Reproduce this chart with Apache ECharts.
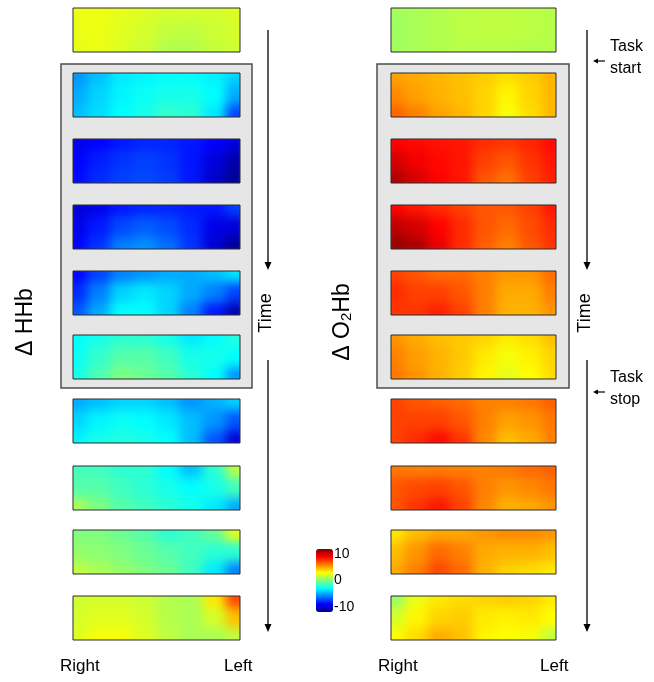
<!DOCTYPE html>
<html>
<head>
<meta charset="utf-8">
<script src="https://cdn.jsdelivr.net/npm/echarts@6/dist/echarts.min.js"></script>
<style>
  html, body { margin: 0; padding: 0; background: #fff; }
  #wrap { position: relative; width: 654px; height: 682px; overflow: hidden; background: #fff; }
  #maps, #frame { position: absolute; left: 0; top: 0; width: 654px; height: 682px; }
  /* topographic maps are drawn from the channel grid and softened */
  #maps { filter: blur(5.5px); }
</style>
</head>
<body>
<div id="wrap"><div id="maps"></div><div id="frame"></div></div>
<script>
// Channel grid: columns run from the right hemisphere (drawn left) to the left hemisphere
const channelCols = ['1', '2', '3', '4', '5', '6', '7', '8'];
const channelRows = ['upper', 'middle', 'lower'];

// ΔHHb maps, one per time step (rows: upper, middle, lower)
const hhb01 = [[2.6, 2.6, 2.4, 2.2, 2.0, 2.0, 2.0, 2.2], [2.5, 2.6, 2.3, 2.0, 1.6, 1.5, 1.8, 2.0], [2.4, 2.5, 2.2, 1.8, 1.2, 1.2, 1.6, 1.9]];
const hhb02 = [[-5.5, -4.5, -3.5, -3.2, -3.0, -3.0, -3.3, -4.0], [-5.0, -4.0, -3.2, -2.8, -2.5, -2.5, -3.0, -5.0], [-4.5, -3.8, -3.0, -2.5, -1.8, -2.0, -3.5, -7.5]];
const hhb03 = [[-9.5, -9, -8.5, -8.2, -8.2, -8.5, -9, -9.8], [-9, -8.3, -7.8, -7.5, -7.8, -8.5, -9.8, -11], [-8.8, -8, -7.5, -7.3, -7.6, -8.5, -10.3, -11.5]];
const hhb04 = [[-10, -9.5, -8.5, -8.2, -8.2, -8.4, -8.5, -7.5], [-9.5, -8.4, -7.3, -6.8, -7.2, -8, -9.5, -10], [-9, -7.8, -6, -5.6, -6.4, -7.8, -10, -11.5]];
const hhb05 = [[-9, -7.5, -6, -5.5, -5, -5, -4.5, -3.5], [-8, -6, -4, -3.5, -4, -5, -6, -7.5], [-7, -5, -3, -3, -4, -6, -8.5, -11]];
const hhb06 = [[-3, -2.5, -2, -2, -2.5, -3.5, -3, -2.2], [-2.8, -1.8, -1, -1, -1.5, -2.5, -2.5, -3], [-2.5, -1.2, 0, -0.5, -1, -2, -3, -5.5]];
const hhb07 = [[-5, -4.5, -4, -4, -4.5, -5.5, -4.8, -4], [-4, -3.2, -2.8, -3, -3.5, -4.5, -5.5, -7], [-3.2, -2.5, -2.3, -2.5, -3, -4.5, -7, -10]];
const hhb08 = [[-1.5, -1.5, -2, -2, -3, -4.5, -2, 1.5], [-1, -1, -1.5, -2, -2.5, -3, -2.5, -1.5], [1, 0, -1, -1.5, -2, -2.5, -3.5, -5]];
const hhb09 = [[0, 0, -0.5, -1, -2, -1.5, -0.5, 2.5], [0.5, 0.3, 0, -0.5, -1, -1.5, -2, -2], [1.5, 1, 0.5, 0, -0.5, -1.5, -3.5, -6]];
const hhb10 = [[1.8, 2, 2, 1.8, 1.2, 1.0, 3.5, 7.5], [2, 2.3, 2.3, 2, 1.3, 1.0, 2.0, 4.5], [2.3, 2.8, 2.8, 2.2, 1.5, 1.0, 1.0, 1.5]];

// ΔO2Hb maps, one per time step
const o2hb01 = [[0.8, 1.0, 1.2, 1.4, 1.5, 1.5, 1.4, 1.3], [0.7, 1.0, 1.2, 1.4, 1.5, 1.5, 1.4, 1.3], [0.8, 1.0, 1.2, 1.3, 1.3, 1.3, 1.2, 1.2]];
const o2hb02 = [[5.2, 5, 4.7, 4.5, 4.2, 3.8, 4.2, 4.8], [5.8, 5.2, 4.8, 4.5, 4.0, 3.2, 4.0, 4.7], [6.7, 6.0, 5.2, 4.7, 4.0, 2.8, 3.8, 4.7]];
const o2hb03 = [[9, 8.8, 8.6, 8.5, 8, 7.8, 8.2, 8.8], [10, 9.3, 8.8, 8.5, 7.5, 7, 7.8, 8.5], [11, 10, 9, 8.5, 7, 6.3, 7.5, 8.3]];
const o2hb04 = [[9, 8.5, 8, 7.5, 7, 7, 7.5, 8.5], [10.5, 10, 9, 8, 7, 6.5, 7.2, 8], [11.5, 11, 9.5, 8, 6.8, 6, 7, 7.8]];
const o2hb05 = [[7.5, 7, 6.5, 6.5, 6, 5.5, 5.5, 6.5], [8, 7.5, 7.5, 7, 6, 5, 5, 6], [7.8, 7.8, 8.3, 7.5, 6, 4.8, 4.8, 5.5]];
const o2hb06 = [[5.5, 5, 4.5, 4.3, 4, 3.5, 3.8, 4.5], [6, 5.3, 4.8, 4.3, 3.5, 2.8, 3.3, 4], [6.2, 5.5, 4.8, 4.2, 3.2, 2.4, 3, 3.8]];
const o2hb07 = [[7.5, 7, 6.8, 6.5, 6, 6, 6.2, 6.8], [7.5, 7.5, 7.5, 7, 6, 5.2, 5.5, 6.2], [7.5, 8, 8.8, 7.8, 5.8, 4.5, 5, 6]];
const o2hb08 = [[6.2, 6, 6, 6, 6, 6.2, 6.5, 6.8], [7, 7.3, 7.5, 7, 6, 5.5, 5.8, 6.2], [7, 7.8, 8.5, 7.5, 5.8, 4.8, 5, 5.5]];
const o2hb09 = [[3.5, 4.5, 5, 5, 5.5, 5.8, 5.8, 5.5], [4.5, 5.5, 6.5, 6, 5, 4.8, 4.8, 4.5], [5, 6, 7.3, 6.5, 4.8, 4, 3.8, 3.5]];
const o2hb10 = [[0.5, 2.5, 3.5, 3.8, 4, 4.2, 4, 3.5], [2, 3.2, 4, 4.2, 3.5, 3.3, 3.5, 3], [3, 3.8, 5, 4.5, 3.2, 3, 2.8, 1.5]];

const hhbSeries = [hhb01, hhb02, hhb03, hhb04, hhb05, hhb06, hhb07, hhb08, hhb09, hhb10];
const o2hbSeries = [o2hb01, o2hb02, o2hb03, o2hb04, o2hb05, o2hb06, o2hb07, o2hb08, o2hb09, o2hb10];

// colour scale
const scaleMin = -12;
const scaleMax = 12;
const colorbarTicks = [10, 0, -10];
const jet = ['#00007f', '#0000ff', '#007fff', '#00ffff', '#7fff7f', '#ffff00', '#ff7f00', '#ff0000', '#7f0000'];

// ---- layout ----
const FONT = '"Liberation Sans", Arial, sans-serif';
const PANEL_TOPS = [8, 73, 139, 205, 271, 335, 399, 466, 530, 596];
const PANEL_H = 44;
const TASK_FIRST = 1, TASK_LAST = 5;   // panels inside the task box
const columns = [
  { x: 73, w: 167, maps: hhbSeries, box: { x: 61, y: 64, w: 191, h: 324 }, arrowX: 268 },
  { x: 391, w: 165, maps: o2hbSeries, box: { x: 377, y: 64, w: 192, h: 324 }, arrowX: 587 }
];
const EXT = 9;   // map grid extends under the frame mask so the softened edge stays clean
const W = 654, H = 682;

// ---------- map layer ----------
const grids = [], xAxes = [], yAxes = [], series = [];
columns.forEach(col => {
  col.maps.forEach((m, i) => {
    const k = grids.length;
    grids.push({ left: col.x - EXT, top: PANEL_TOPS[i] - EXT, width: col.w + 2 * EXT, height: PANEL_H + 2 * EXT });
    xAxes.push({ type: 'category', gridIndex: k, data: channelCols, show: false });
    yAxes.push({ type: 'category', gridIndex: k, data: channelRows, inverse: true, show: false });
    const data = [];
    m.forEach((row, r) => row.forEach((v, c) => data.push([c, r, v])));
    series.push({
      type: 'heatmap', xAxisIndex: k, yAxisIndex: k, data: data,
      itemStyle: { borderWidth: 0 }, emphasis: { disabled: true }, silent: true
    });
  });
});

const maps = echarts.init(document.getElementById('maps'), null, { renderer: 'canvas' });
maps.setOption({
  animation: false,
  backgroundColor: '#fff',
  grid: grids, xAxis: xAxes, yAxis: yAxes, series: series,
  visualMap: { type: 'continuous', show: false, min: scaleMin, max: scaleMax, dimension: 2, inRange: { color: jet } }
});

// ---------- frame layer: masks, boxes, borders, annotations ----------
const g = [];
const rect = (x, y, w, h, fill) => g.push({ type: 'rect', shape: { x, y, width: w, height: h }, style: { fill }, silent: true });

// white surround outside the panels
const c0 = columns[0], c1 = columns[1];
rect(0, 0, c0.x, H, '#fff');
rect(c0.x + c0.w, 0, c1.x - c0.x - c0.w, H, '#fff');
rect(c1.x + c1.w, 0, W - c1.x - c1.w, H, '#fff');
columns.forEach(col => {
  let prev = 0;
  PANEL_TOPS.forEach(t => { rect(col.x, prev, col.w, t - prev, '#fff'); prev = t + PANEL_H; });
  rect(col.x, prev, col.w, H - prev, '#fff');
});

// grey task box
const GREY = '#e6e6e6';
columns.forEach(col => {
  const b = col.box;
  rect(b.x, b.y, col.x - b.x, b.h, GREY);
  rect(col.x + col.w, b.y, b.x + b.w - col.x - col.w, b.h, GREY);
  let prev = b.y;
  for (let i = TASK_FIRST; i <= TASK_LAST; i++) {
    rect(col.x, prev, col.w, PANEL_TOPS[i] - prev, GREY);
    prev = PANEL_TOPS[i] + PANEL_H;
  }
  rect(col.x, prev, col.w, b.y + b.h - prev, GREY);
  g.push({ type: 'rect', shape: { x: b.x, y: b.y, width: b.w, height: b.h },
    style: { fill: null, stroke: '#4d4d4d', lineWidth: 1.5 }, silent: true });
  PANEL_TOPS.forEach(t => g.push({ type: 'rect', shape: { x: col.x, y: t, width: col.w, height: PANEL_H },
    style: { fill: null, stroke: '#2a2a2a', lineWidth: 1 }, silent: true }));
});

// time arrows
function arrow(x, y1, y2) {
  g.push({ type: 'line', shape: { x1: x, y1: y1, x2: x, y2: y2 - 6 }, style: { stroke: '#000', lineWidth: 1.3 }, silent: true });
  g.push({ type: 'polygon', shape: { points: [[x - 3.5, y2 - 8], [x + 3.5, y2 - 8], [x, y2]] }, style: { fill: '#000' }, silent: true });
}
function text(str, x, y, size, opts) {
  g.push(Object.assign({ type: 'text', x, y, silent: true,
    style: { text: str, fontSize: size, fontFamily: FONT, fill: '#000', align: 'center', verticalAlign: 'middle' } }, opts || {}));
}
columns.forEach(col => {
  arrow(col.arrowX, 30, 270);
  arrow(col.arrowX, 360, 632);
  text('Time', col.arrowX - 2, 313, 18, { rotation: Math.PI / 2 });
  g.push({ type: 'text', x: col.x - 13, y: 666, silent: true,
    style: { text: 'Right', fontSize: 17, fontFamily: FONT, fill: '#000', align: 'left', verticalAlign: 'middle' } });
  g.push({ type: 'text', x: col.x + col.w - 16, y: 666, silent: true,
    style: { text: 'Left', fontSize: 17, fontFamily: FONT, fill: '#000', align: 'left', verticalAlign: 'middle' } });
});

// task markers
function pointer(y) {
  g.push({ type: 'line', shape: { x1: 596, y1: y, x2: 605, y2: y }, style: { stroke: '#000', lineWidth: 1.2 }, silent: true });
  g.push({ type: 'polygon', shape: { points: [[593, y], [598, y - 2.5], [598, y + 2.5]] }, style: { fill: '#000' }, silent: true });
}
g.push({ type: 'text', x: 610, y: 47, silent: true, style: { text: 'Task', fontSize: 16, fontFamily: FONT, fill: '#000', align: 'left', verticalAlign: 'middle' } });
g.push({ type: 'text', x: 610, y: 69, silent: true, style: { text: 'start', fontSize: 16, fontFamily: FONT, fill: '#000', align: 'left', verticalAlign: 'middle' } });
pointer(61);
g.push({ type: 'text', x: 610, y: 378, silent: true, style: { text: 'Task', fontSize: 16, fontFamily: FONT, fill: '#000', align: 'left', verticalAlign: 'middle' } });
g.push({ type: 'text', x: 610, y: 400, silent: true, style: { text: 'stop', fontSize: 16, fontFamily: FONT, fill: '#000', align: 'left', verticalAlign: 'middle' } });
pointer(392);

// row titles
text('Δ HHb', 26, 322, 23, { rotation: Math.PI / 2 });
g.push({ type: 'text', x: 343, y: 322, rotation: Math.PI / 2, silent: true,
  style: { text: '{a|Δ O}{s|2}{a|Hb}', fontFamily: FONT, fill: '#000', align: 'center', verticalAlign: 'middle',
    rich: { a: { fontSize: 23, fontFamily: FONT, fill: '#000' },
            s: { fontSize: 15, fontFamily: FONT, fill: '#000', verticalAlign: 'bottom' } } } });

const frame = echarts.init(document.getElementById('frame'), null, { renderer: 'canvas' });
frame.setOption({
  animation: false,
  backgroundColor: 'transparent',
  graphic: { elements: g },
  grid: { left: 316, top: 549, width: 17, height: 63 },
  xAxis: { type: 'category', data: [''], show: false },
  yAxis: {
    type: 'value', min: scaleMin, max: scaleMax, position: 'right',
    axisLine: { show: false }, axisTick: { show: false }, splitLine: { show: false },
    axisLabel: { customValues: colorbarTicks, margin: 1, fontSize: 14, color: '#000', fontFamily: FONT }
  },
  visualMap: {
    type: 'continuous', min: scaleMin, max: scaleMax, left: 316, top: 549, itemWidth: 17, itemHeight: 63,
    padding: 0, calculable: false, hoverLink: false, seriesIndex: [], inRange: { color: jet }
  },
  series: []
});
</script>
</body>
</html>
